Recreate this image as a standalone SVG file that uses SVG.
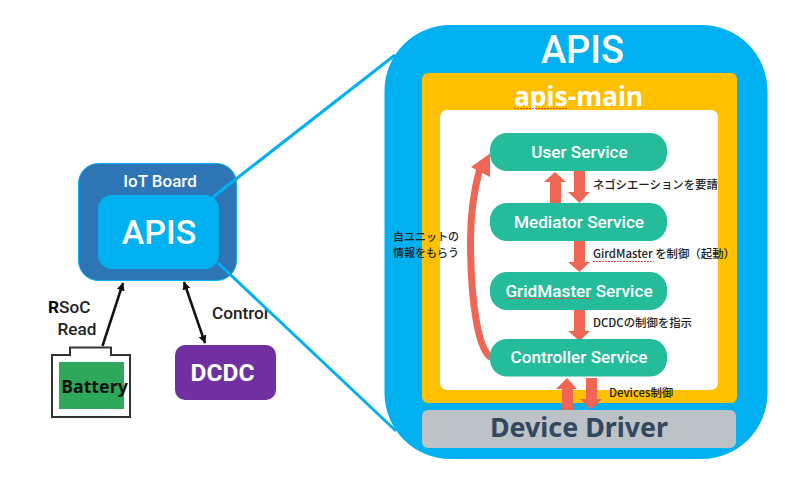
<svg xmlns="http://www.w3.org/2000/svg" width="807" height="492" viewBox="0 0 807 492">
<style>
text{font-family:"Noto Sans CJK JP","Noto Sans","Liberation Sans",sans-serif}
.svc{fill:#24bc9a}
.st{fill:#fff;font-size:17.200px;font-weight:500;text-anchor:middle;font-family:Roboto,"Noto Sans",sans-serif}
.lb{fill:#222;font-size:11.400px;font-weight:500}
.blk{fill:#222;font-size:17.200px;font-weight:500;font-family:Roboto,"Noto Sans",sans-serif}
.arrow{fill:#ef6655}
.wave{fill:none;stroke:#e8483f;stroke-width:1;stroke-dasharray:2 1}
</style>
<defs>
<marker id="ah" markerWidth="10" markerHeight="10" refX="7.500" refY="4" orient="auto-start-reverse" markerUnits="userSpaceOnUse"><path d="M0 0L8 4L0 8z" fill="#111"/></marker>
</defs>
<g id="apis-large">
<rect x="384.500" y="25" width="383" height="434" rx="66" fill="#00b0f0"/>
<text x="582.500" y="63" text-anchor="middle" fill="#fff" font-size="38" font-weight="500" style="font-family:Roboto,sans-serif">APIS</text>
</g>
<g id="apis-main">
<rect x="422" y="73" width="315" height="330" rx="6" fill="#ffc000"/>
<rect x="440" y="110" width="278" height="280" rx="7" fill="#fff"/>
<text x="578.500" y="106" text-anchor="middle" fill="#fff" font-size="26.500" font-weight="700" style="font-family:'Noto Sans',sans-serif">apis-main</text>
<path class="wave" d="M514 108.500H567"/>
</g>
<g id="iot-board">
<rect x="78.500" y="163.500" width="158" height="117" rx="20" fill="#2e75b6" stroke="#00b0f0"/>
<text x="160" y="187" text-anchor="middle" fill="#fff" font-size="17" font-weight="500" style="font-family:Roboto,sans-serif">IoT Board</text>
</g>
<g id="side-labels">
<text class="blk" x="48" y="313"><tspan font-weight="700" fill="#000">R</tspan>SoC</text>
<text class="blk" x="57.500" y="335">Read</text>
<text class="blk" x="212" y="319">Control</text>
</g>
<g id="connectors">
<path d="M213 197L395 55" stroke="#00b0f0" stroke-width="3" fill="none"/>
<path d="M218 263L396 431" stroke="#00b0f0" stroke-width="3" fill="none"/>
<path d="M102.500 346L123 283" stroke="#111" stroke-width="2.500" fill="none" marker-end="url(#ah)"/>
<path d="M184 282L205 343" stroke="#111" stroke-width="2.500" fill="none" marker-start="url(#ah)" marker-end="url(#ah)"/>
<path d="M491 357.500C478 350 470.500 300 470.500 240C470.500 215 474 190 480 168" stroke="#ef6655" stroke-width="7" fill="none"/>
<path class="arrow" d="M490 153.500L471 167L490 177Z"/>
<path class="arrow" d="M550 203V182H544L555 172L566 182H561V203Z"/>
<path class="arrow" d="M574 171H585V192H590L579.500 203L568 192H574Z"/>
<path class="arrow" d="M574 241H585V262H590L579.500 272L568 262H574Z"/>
<path class="arrow" d="M574 310H585V331H590L579.500 341L568 331H574Z"/>
<path class="arrow" d="M562 410V389H556L567 378L577 389H573V410Z"/>
<path class="arrow" d="M586 378H597V399H602L591 409.500L580 399H586Z"/>
</g>
<g id="user-service"><rect class="svc" x="490" y="133" width="177" height="38" rx="17"/><text class="st" x="579.500" y="157.500">User Service</text></g>
<g id="mediator-service"><rect class="svc" x="490" y="203" width="177" height="38" rx="17"/><text class="st" x="579" y="227.500">Mediator Service</text></g>
<g id="gridmaster-service"><rect class="svc" x="490" y="272" width="177" height="38" rx="17"/><text class="st" x="579" y="296.500">GridMaster Service</text><path class="wave" d="M506 298.500H591"/></g>
<g id="controller-service"><rect class="svc" x="490" y="339" width="177" height="37.500" rx="17"/><text class="st" x="579" y="363">Controller Service</text></g>
<g id="device-driver"><rect x="422" y="410" width="314" height="38" rx="6" fill="#bdc2c7"/><text x="579" y="437" text-anchor="middle" fill="#33475e" font-size="26.800" font-weight="700" style="font-family:'Noto Sans',sans-serif">Device Driver</text></g>
<g id="labels">
<text class="lb" x="593" y="189">ネゴシエーションを要請</text>
<text class="lb" x="593" y="258">GirdMaster を制御（起動）</text>
<path class="wave" d="M593 261.500H654"/>
<text class="lb" x="593" y="327">DCDCの制御を指示</text>
<text class="lb" x="609" y="397">Devices制御</text>
<text class="lb" style="font-size:11px" x="393" y="241">自ユニットの</text>
<text class="lb" style="font-size:11px" x="393" y="257">情報をもらう</text>
</g>
<g id="apis-small">
<rect x="98" y="195" width="121" height="74" rx="14" fill="#00b0f0"/>
<text x="159" y="244" text-anchor="middle" fill="#fff" font-size="34" font-weight="500" style="font-family:Roboto,sans-serif">APIS</text>
</g>
<g id="battery">
<path d="M70 355V347.500H111V355H130V417H52V355Z" fill="#fff" stroke="#333" stroke-width="2"/>
<rect x="59" y="362" width="65" height="47" fill="#2ea85a"/>
<text x="94.500" y="393" text-anchor="middle" fill="#111" font-size="17.800" font-weight="700" style="font-family:'Noto Sans',sans-serif">Battery</text>
</g>
<g id="dcdc">
<rect x="175" y="345" width="101" height="55" rx="10" fill="#7030a0"/>
<text x="222.500" y="381" text-anchor="middle" fill="#fff" font-size="24.500" font-weight="700" style="font-family:Roboto,sans-serif">DCDC</text>
</g>
</svg>
